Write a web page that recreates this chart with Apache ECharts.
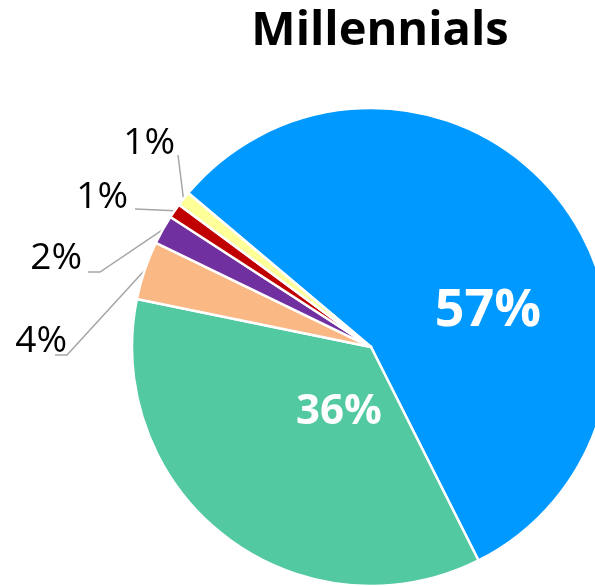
<!DOCTYPE html>
<html>
<head>
<meta charset="utf-8">
<script src="https://cdn.jsdelivr.net/npm/echarts@6/dist/echarts.min.js"></script>
<style>
  html, body { margin: 0; padding: 0; background: #ffffff; }
  #chart { width: 595px; height: 586px; }
</style>
</head>
<body>
<div id="chart"></div>
<script>
// Chart content
const chartTitle = 'Millennials';
const categories = ['Category 1', 'Category 2', 'Category 3', 'Category 4', 'Category 5', 'Category 6'];
const values = [57, 36, 4, 2, 1, 1];
const sliceColors = ['#0099FF', '#52C9A0', '#F9B884', '#7030A0', '#C00000', '#FFFF99'];

// Pie geometry
const pieCenter = [371, 347];
const pieRadius = 239;

// Label placement per slice: big slices carry their value inside,
// small ones get a callout with a leader line (pixel positions).
const labelPlacement = [
  { inside: true, x: 488, y: 311, size: 52 },
  { inside: true, x: 339, y: 412, size: 42 },
  { inside: false, x: 67, y: 341, line: [[67, 355], [55, 355]] },
  { inside: false, x: 82, y: 258, line: [[100, 272], [88, 272]] },
  { inside: false, x: 128, y: 197, line: [[135, 209]] },
  { inside: false, x: 175, y: 143, line: [[178, 155]] }
];

const data = values.map(function (v, i) {
  const p = labelPlacement[i];
  return {
    name: categories[i],
    value: v,
    itemStyle: { color: sliceColors[i] },
    label: p.inside
      ? { position: 'inside', color: '#ffffff', fontWeight: 'bold', fontSize: p.size }
      : { position: 'outside', color: '#000000', fontWeight: 'normal', fontSize: 37 },
    labelLine: { show: !p.inside }
  };
});

const chart = echarts.init(document.getElementById('chart'), null, { renderer: 'canvas' });
chart.setOption({
  animation: false,
  backgroundColor: '#ffffff',
  title: {
    text: chartTitle,
    left: 375,
    top: 3,
    textAlign: 'center',
    textStyle: {
      fontFamily: 'Open Sans',
      fontWeight: 'bold',
      fontSize: 47,
      color: '#000000'
    }
  },
  series: [{
    type: 'pie',
    center: pieCenter,
    radius: pieRadius,
    startAngle: 139.9,
    clockwise: true,
    avoidLabelOverlap: false,
    data: data,
    itemStyle: { borderColor: '#ffffff', borderWidth: 2.5 },
    label: {
      fontFamily: 'Open Sans',
      formatter: '{c}%'
    },
    labelLine: {
      lineStyle: { color: '#A6A6A6', width: 1.5 }
    },
    labelLayout: function (params) {
      const p = labelPlacement[params.dataIndex];
      const out = {
        x: p.x,
        y: p.y,
        align: p.inside ? 'center' : 'right',
        verticalAlign: 'middle'
      };
      if (!p.inside && params.labelLinePoints) {
        out.labelLinePoints = [params.labelLinePoints[0]].concat(p.line);
      }
      return out;
    }
  }]
});
</script>
</body>
</html>
